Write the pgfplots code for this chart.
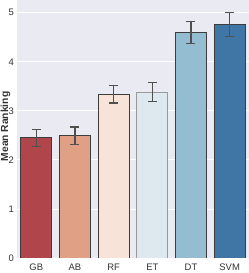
\documentclass[border=0pt]{standalone}
\usepackage{pgfplots}
\pgfplotsset{compat=1.18}
\usepackage{fontspec}
\setmainfont{Liberation Sans}
\definecolor{bgc}{HTML}{EAEAF2}
\definecolor{cGB}{HTML}{B0454C}
\definecolor{cAB}{HTML}{E0A085}
\definecolor{cRF}{HTML}{F7E3D8}
\definecolor{cET}{HTML}{DDE8EF}
\definecolor{cDT}{HTML}{94BDD1}
\definecolor{cSVM}{HTML}{4076A5}
\definecolor{edge}{HTML}{3C3C3C}
\definecolor{edgeL}{HTML}{9A9A9A}
\definecolor{txt}{HTML}{333333}
\begin{document}
\begin{tikzpicture}
\useasboundingbox (-17bp,-15bp) rectangle (232bp,258bp);
\begin{axis}[
  at={(0,0)}, anchor=south west,
  scale only axis,
  width=232bp, height=258bp,
  xmin=-0.5, xmax=5.5, ymin=0, ymax=5.26,
  axis background/.style={fill=bgc},
  axis line style={draw=none},
  major tick length=0pt,
  xtick={0,1,2,3,4,5},
  xticklabels={GB,AB,RF,ET,DT,SVM},
  ytick={0,1,2,3,4,5},
  ymajorgrids,
  major grid style={white, line width=0.9pt},
  tick label style={font=\fontsize{9.5}{11}\selectfont, text=txt},
  yticklabel style={xshift=0.5bp},
  xticklabel style={yshift=-2bp},
  /pgf/number format/assume math mode=true,
  ylabel={\bfseries Mean Ranking},
  every axis y label/.style={font=\fontsize{10.3}{12}\selectfont, text=txt, at={(axis description cs:-0.038,0.51)}, anchor=base, rotate=90},
  ybar, bar width=0.8, bar shift=0pt,
  error bars/y dir=both, error bars/y explicit,
  error bars/error bar style={color=edge!90, line width=1.1pt},
  error bars/error mark options={rotate=90, mark size=4.5bp, line width=1.1pt, color=edge!90},
]
\addplot[fill=cGB, draw=edge, line width=0.9pt] coordinates {(0,2.45) +- (0,0.17)};
\addplot[fill=cAB, draw=edge, line width=0.9pt] coordinates {(1,2.49) +- (0,0.18)};
\addplot[fill=cRF, draw=edge, line width=0.9pt] coordinates {(2,3.34) +- (0,0.18)};
\addplot[fill=cET, draw=edgeL, line width=0.9pt] coordinates {(3,3.38) +- (0,0.19)};
\addplot[fill=cDT, draw=edge, line width=0.9pt] coordinates {(4,4.60) +- (0,0.22)};
\addplot[fill=cSVM, draw=edge, line width=0.9pt] coordinates {(5,4.76) +- (0,0.25)};
\end{axis}
\end{tikzpicture}
\end{document}
